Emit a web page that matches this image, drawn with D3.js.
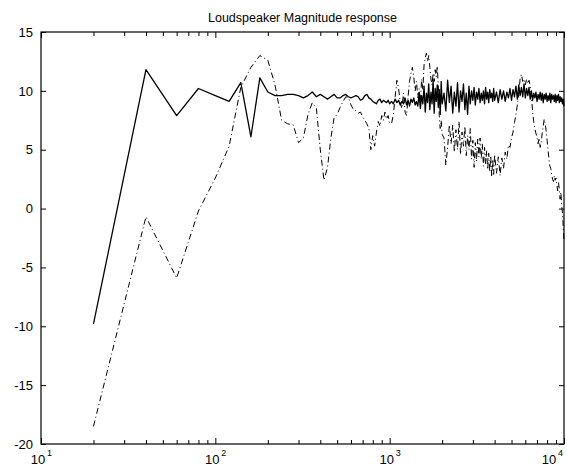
<!DOCTYPE html>
<html><head><meta charset="utf-8">
<script src="https://cdn.jsdelivr.net/npm/d3@7"></script>
<style>
body{margin:0;background:#fff;}
text{font-family:"Liberation Sans",Arial,sans-serif;fill:#000;}
</style></head>
<body><svg id="c" width="567" height="466"></svg>
<script>
const title = "Loudspeaker Magnitude response";
const yTicks = [-20,-15,-10,-5,0,5,10,15];
const xMajor = [10,100,1000,10000];
const xMajorExp = ["1","2","3","4"];
const xMinor = [20,30,40,50,60,70,80,90,200,300,400,500,600,700,800,900,2000,3000,4000,5000,6000,7000,8000,9000];

const freq = [20,40,60,80,100,120,140,160,180,200,220,240,260,280,300,320,340,360,380,400,420,440,460,480,500,520,540,560,580,600,620,640,660,680,700,720,740,760,780,800,820,840,860,880,900,920,940,960,980,1000,
1025,1050,1075,1100,1125,1150,1175,1200,1225,1250,1275,1300,1325,1350,1375,1400,1425,1450,1475,1500,1525,1550,1575,1600,1625,1650,1675,1700,1725,1750,1775,1800,1825,1850,1875,1900,1925,1950,1975,2000,
2050,2100,2150,2200,2250,2300,2350,2400,2450,2500,2550,2600,2650,2700,2750,2800,2850,2900,2950,3000,3050,3100,3150,3200,3250,3300,3350,3400,3450,3500,3550,3600,3650,3700,3750,3800,3850,3900,3950,4000,
4100,4200,4300,4400,4500,4600,4700,4800,4900,5000,5100,5200,5300,5400,5500,5600,5700,5800,5900,6000,6100,6200,6300,6400,6500,6600,6700,6800,6900,7000,7100,7200,7300,7400,7500,7600,7700,7800,7900,8000,8100,8200,8300,8400,8500,8600,8700,8800,8900,9000,9100,9200,9300,9400,9500,9600,9700,9800,9900,10000];

const solid = [-9.8,11.8,7.9,10.2,9.6,9.1,10.7,6.1,11.1,9.9,9.6,9.6,9.7,9.7,9.6,9.4,9.6,9.9,9.5,9.7,9.5,9.3,9.5,9.7,9.4,9.4,9.6,9.7,9.5,9.4,9.5,9.6,9.5,9.2,9.3,9.6,9.7,9.4,9.3,9.1,9.0,8.9,9.2,9.3,9.0,9.2,9.1,9.0,9.2,8.9,
9.1,8.9,9.3,9.0,9.2,8.8,9.1,8.9,9.4,8.8,9.2,8.7,9.3,9.0,9.4,8.8,9.1,8.7,9.7,8.5,9.6,8.9,10.4,8.2,9.8,9.0,10.6,8.4,9.9,8.9,10.9,8.1,10.2,9.1,10.5,8.6,10.1,8.0,10.8,8.9,
9.8,8.3,10.9,9.0,10.4,8.1,9.9,8.7,10.7,8.2,10.0,9.1,10.6,8.4,9.8,8.0,10.4,8.9,10.0,9.2,10.3,8.8,9.9,9.3,10.2,9.0,9.8,9.2,10.0,8.9,10.3,9.3,9.9,9.0,10.1,9.4,9.8,9.1,10.2,9.2,
9.9,9.0,10.1,9.3,10.0,9.1,9.9,9.4,10.2,9.2,10.1,9.5,10.4,9.3,10.5,9.6,10.3,9.5,10.6,9.4,10.2,9.6,10.3,9.3,10.0,9.2,9.8,9.4,9.9,9.1,9.7,9.3,9.9,9.2,9.8,9.0,9.7,9.3,9.8,9.1,9.6,9.2,9.8,9.0,9.7,9.3,9.6,9.1,9.7,9.0,9.6,9.2,9.7,9.0,9.5,9.1,9.4,8.9,9.3,8.7];

const dashdot = [-18.5,-0.7,-5.9,-0.2,2.6,5.3,10.3,12.0,13.0,12.6,10.5,7.5,7.2,7.1,5.6,6.0,8.0,9.0,8.5,5.0,2.4,3.5,6.0,7.7,8.0,8.6,9.1,9.5,9.4,8.8,8.4,8.3,8.1,8.2,7.8,7.5,7.2,6.8,5.0,6.2,5.3,6.5,7.4,7.0,7.9,7.5,8.2,7.6,7.9,7.3,
7.2,8.0,9.5,10.9,10.2,9.0,8.5,9.8,8.2,7.9,9.5,10.8,11.5,12.0,11.2,10.0,10.8,9.4,10.2,9.0,11.0,10.1,12.2,12.8,13.2,12.5,13.0,12.0,11.0,10.5,11.5,10.8,11.8,11.2,12.1,10.5,7.9,6.8,7.5,6.3,
6.0,3.7,5.2,7.1,5.5,7.1,4.8,6.7,5.0,7.4,4.6,6.5,5.3,7.0,4.5,6.2,5.0,6.8,4.2,5.8,3.5,5.6,4.0,5.9,4.4,6.0,4.2,5.5,3.6,5.2,3.8,4.9,3.3,4.7,3.1,4.5,2.7,4.2,2.9,4.6,
3.0,4.4,2.8,4.3,3.4,4.8,4.2,5.4,5.2,6.0,6.5,7.3,8.0,8.8,9.8,11.0,11.4,10.8,11.0,10.5,11.0,10.6,10.9,10.4,9.6,8.3,7.4,6.8,6.4,6.1,5.5,6.0,5.2,5.6,6.4,7.0,7.6,7.2,6.6,5.8,5.0,4.2,3.6,3.4,2.9,2.5,2.3,2.8,2.4,2.6,2.0,1.5,2.2,1.6,0.8,1.4,0.2,-0.4,-1.5,-2.7];

const svg = d3.select("#c");
const L=41,R=564,T=32,B=444;
const x = d3.scaleLog().domain([10,10000]).range([L,R]);
const y = d3.scaleLinear().domain([-20,15]).range([B,T]);

// series
const line = d3.line().x((d,i)=>x(freq[i])).y(d=>y(d));
svg.append("path").datum(dashdot).attr("d",line).attr("fill","none")
  .attr("stroke","#000").attr("stroke-width",1).attr("stroke-dasharray","6,3,1,3");
svg.append("path").datum(solid).attr("d",line).attr("fill","none")
  .attr("stroke","#000").attr("stroke-width",1.3).attr("stroke-linejoin","round");

// axes ticks inward
const tickStyle = g => { g.select(".domain").remove(); g.selectAll("line").attr("stroke","#000"); g.selectAll("text").remove(); };
svg.append("g").attr("transform",`translate(0,${B})`).call(d3.axisBottom(x).tickValues(xMajor).tickSize(-6)).call(tickStyle);
svg.append("g").attr("transform",`translate(0,${B})`).call(d3.axisBottom(x).tickValues(xMinor).tickSize(-4)).call(tickStyle);
svg.append("g").attr("transform",`translate(0,${T})`).call(d3.axisTop(x).tickValues(xMajor).tickSize(-6)).call(tickStyle);
svg.append("g").attr("transform",`translate(0,${T})`).call(d3.axisTop(x).tickValues(xMinor).tickSize(-4)).call(tickStyle);
svg.append("g").attr("transform",`translate(${L},0)`).call(d3.axisLeft(y).tickValues(yTicks).tickSize(-5)).call(tickStyle);
svg.append("g").attr("transform",`translate(${R},0)`).call(d3.axisRight(y).tickValues(yTicks).tickSize(-5)).call(tickStyle);

// frame
svg.append("rect").attr("x",L).attr("y",T).attr("width",R-L).attr("height",B-T)
  .attr("fill","none").attr("stroke","#000").attr("stroke-width",1.2);

// y labels
svg.append("g").selectAll("text").data(yTicks).join("text")
  .attr("x",L-8).attr("y",d=>y(d)).attr("dy","0.36em").attr("text-anchor","end")
  .attr("font-size",13).text(d=>String(d));

// x labels with superscripts (last one kept inside the window)
const xl = svg.append("g").selectAll("g").data(xMajor).join("g")
  .attr("transform",(d,i)=>`translate(${Math.min(x(d),552)},0)`);
xl.append("text").attr("x",-3).attr("y",B+20).attr("text-anchor","middle").attr("font-size",13).text("10");
xl.append("text").attr("x",6).attr("y",B+12).attr("font-size",9).text((d,i)=>xMajorExp[i]);

// title
svg.append("text").attr("x",(L+R)/2).attr("y",T-10).attr("text-anchor","middle")
  .attr("font-size",12.5).text(title);
</script></body></html>
